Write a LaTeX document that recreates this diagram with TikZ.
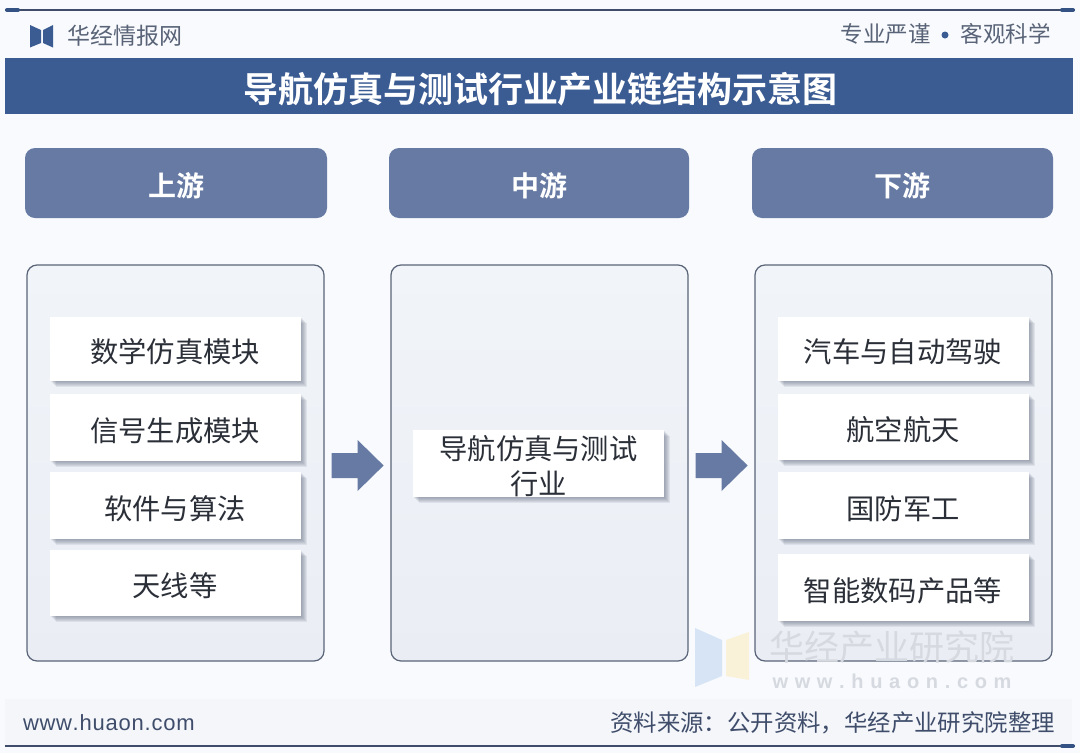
\documentclass[tikz,border=0pt]{standalone}
\usepackage{fontspec}
\setmainfont{Noto Sans CJK SC}[BoldFont={* Bold}]
\newfontfamily\latinf{Liberation Sans}
\usetikzlibrary{shadows,calc}
\definecolor{bgc}{HTML}{F8FAFD}
\definecolor{navy}{HTML}{3B5B93}
\definecolor{headc}{HTML}{667AA3}
\definecolor{paneltop}{HTML}{F1F4F8}
\definecolor{panelbot}{HTML}{EAEDF4}
\definecolor{edgec}{HTML}{5A6478}
\definecolor{inkc}{HTML}{2B2F38}
\definecolor{linec}{HTML}{3F4D6B}
\definecolor{wmc}{HTML}{D6DAE0}
\definecolor{footc}{HTML}{F4F6FA}
\definecolor{wmblue}{HTML}{C9DCF2}
\definecolor{wmyellow}{HTML}{FBF0CF}
\definecolor{shadec}{HTML}{5A6478}
\newcommand{\dn}[2][3pt]{\raisebox{-#1}[\height][\depth]{#2}}
\tikzset{
  x=1pt,y=-1pt,
  softlayer/.style={general shadow={fill=shadec,opacity=.11,shadow xshift=#1,shadow yshift=-#1}},
  banner/.style={fill=navy,draw=none,minimum width=1068pt,minimum height=56pt,inner sep=0pt,text=white,font=\fontsize{35pt}{40pt}\selectfont\bfseries},
  headbox/.style={fill=headc,draw=none,rounded corners=10pt,minimum height=70pt,inner sep=0pt,text=white,font=\fontsize{28pt}{32pt}\selectfont\bfseries},
  panelbox/.style={top color=paneltop,bottom color=panelbot,draw=edgec,line width=1.2pt,rounded corners=10pt,minimum width=297pt,minimum height=396pt,inner sep=0pt},
  itembox/.style={fill=white,draw=none,minimum width=251pt,minimum height=66pt,inner sep=0pt,text=inkc,align=center,
    font=\fontsize{28.3pt}{35pt}\selectfont,
    softlayer=6pt,softlayer=5pt,softlayer=4pt,softlayer=3pt,softlayer=2pt,softlayer=1pt},
  flow/.style={fill=headc,draw=none},
  rulec/.style={draw=linec,line width=1.3pt},
  capc/.style={draw=navy!90!black,line width=4pt,line cap=round},
  plain/.style={inner sep=0pt,text=inkc},
  wmark/.style={inner sep=0pt,text=wmc},
}
\begin{document}
\begin{tikzpicture}
\useasboundingbox (0,0) rectangle (1080,753);
\fill[bgc] (0,0) rectangle (1080,753);
% frame rules
\coordinate (tl) at (5,10); \coordinate (tr) at (1075,10);
\coordinate (bl) at (5,746); \coordinate (br) at (1075,746);
\draw[rulec] (tl) -- (tr);
\draw[capc] (7,10) -- (18,10);
\draw[capc] (1062,10) -- (1073,10);
% footer band
\fill[footc] (5,699) rectangle (1072,745);
\draw[rulec] (bl) -- (br);
\draw[capc] (1062,746) -- (1073,746);
% logo
\fill[navy] (30,25) -- (41,30) -- (41,43) -- (30,47.5) -- cycle;
\fill[navy] (53,25) -- (43,30) -- (43,43) -- (53,47.5) -- cycle;
\node[plain,text=edgec,anchor=west,font=\fontsize{23pt}{26pt}\selectfont] (brand) at (67,36) {华经情报网};
\node[plain,text=edgec,anchor=east,font=\fontsize{22.5pt}{26pt}\selectfont] (motto2) at (1051,34) {客观科学};
\node[circle,fill=navy,inner sep=0pt,minimum size=7pt] (dot) at (945,35) {};
\node[plain,text=edgec,anchor=east,font=\fontsize{22.5pt}{26pt}\selectfont] (motto1) at (931,34) {专业严谨};
% title
\node[banner] (title) at (539,86) {\hspace{3pt}\dn{导航仿真与测试行业产业链结构示意图}};
% headers
\node[headbox,minimum width=302pt] (h1) at (176,183) {\dn{上游}};
\node[headbox,minimum width=300pt] (h2) at (539,183) {\dn{中游}};
\node[headbox,minimum width=301pt] (h3) at (902.5,183) {\dn{下游}};
% watermark logo
\fill[wmblue,opacity=.7] (695,628) -- (722,640) -- (722,676) -- (695,687) -- cycle;
\fill[wmyellow,opacity=.8] (726,640) -- (749,632) -- (749,680) -- (726,676) -- cycle;
% panels
\node[panelbox] (p1) at (175.5,463) {};
\node[panelbox] (p2) at (539.5,463) {};
\node[panelbox] (p3) at (903.5,463) {};
% items
\node[itembox,minimum height=64pt] (a1) at (175,349) {\dn{数学仿真模块}};
\node[itembox,minimum height=67pt] (a2) at (175,427.5) {\dn{信号生成模块}};
\node[itembox,minimum height=67pt] (a3) at (175,505.5) {\dn{软件与算法}};
\node[itembox,minimum height=66pt] (a4) at (175,583) {\dn{天线等}};
\node[itembox,minimum height=67pt] (m1) at (538.5,463.5) {\dn{导航仿真与测试}\\\dn{行业}};
\node[itembox,minimum height=64pt] (c1) at (903,349) {\dn{汽车与自动驾驶}};
\node[itembox,minimum height=66pt] (c2) at (903,427) {\dn{航空航天}};
\node[itembox,minimum height=67pt] (c3) at (903,505.5) {\dn{国防军工}};
\node[itembox,minimum height=67pt] (c4) at (903,587.5) {\dn{智能数码产品等}};
% flow arrows, tied to the panels
\fill[flow] ($(p1.east)+(7,-10)$) -- ++(26,0) -- ++(0,-13) -- ++(26,25.5) -- ++(-26,25.5) -- ++(0,-13) -- ++(-26,0) -- cycle;
\fill[flow] ($(p2.east)+(7,-10)$) -- ++(26,0) -- ++(0,-13) -- ++(26,25.5) -- ++(-26,25.5) -- ++(0,-13) -- ++(-26,0) -- cycle;
% watermark text
\node[wmark,anchor=center,font=\fontsize{35pt}{38pt}\selectfont] (w1) at (892,647) {华经产业研究院};
\node[wmark,anchor=center,font=\latinf\bfseries\fontsize{20pt}{22pt}\selectfont,text=wmc] (w2) at (892,681) {w\,\,w\,\,w\,\,.\,\,h\,\,u\,\,a\,\,o\,\,n\,\,.\,\,c\,\,o\,\,m};
% footer text
\node[plain,text=linec,anchor=west,font=\latinf\fontsize{22pt}{26pt}\selectfont] (site) at (23,723) {w\kern.6pt w\kern.6pt w\kern.6pt.\kern.8pt h\kern.8pt u\kern.8pt a\kern.8pt o\kern.8pt n\kern.8pt.\kern.8pt c\kern.8pt o\kern.8pt m};
\node[plain,text=linec,anchor=east,font=\fontsize{23.4pt}{26pt}\selectfont] (src) at (1055,723) {资料来源：公开资料，华经产业研究院整理};
\end{tikzpicture}
\end{document}
